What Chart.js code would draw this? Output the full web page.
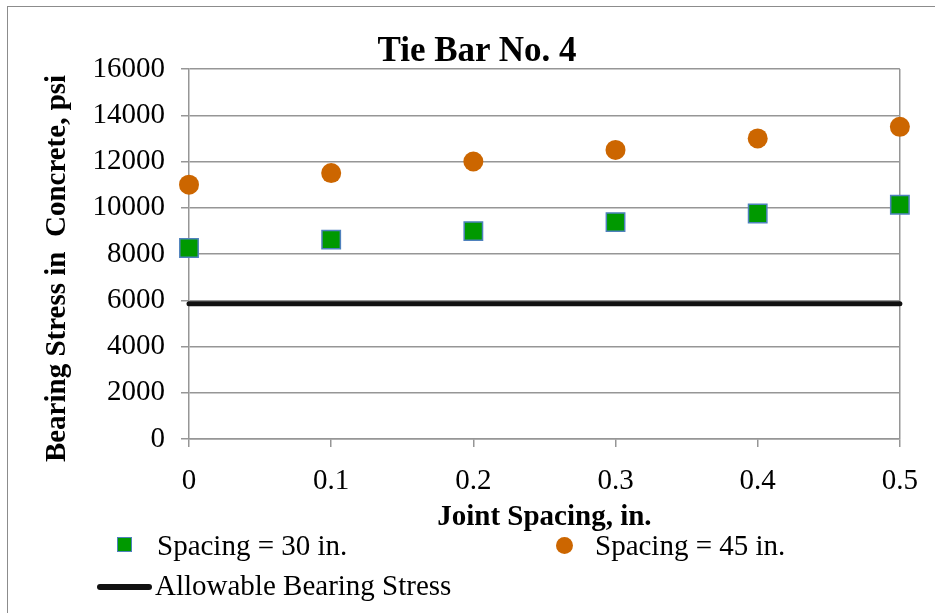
<!DOCTYPE html>
<html>
<head>
<meta charset="utf-8">
<script src="https://cdn.jsdelivr.net/npm/chart.js@4/dist/chart.umd.min.js"></script>
<style>
body { margin: 0; background: #fff; overflow: hidden; }
#wrap { position: relative; width: 935px; height: 613px; font-family: 'Liberation Serif', 'Times New Roman', serif; }
#frame { position: absolute; left: 7px; top: 6px; width: 1000px; height: 700px; border-left: 1.5px solid #8c8c8c; border-top: 1.5px solid #8c8c8c; }
#title { position: absolute; left: 0; width: 954px; top: 32px; text-align: center; font-family: 'Liberation Serif', serif; font-weight: bold; font-size: 35px; line-height: 1; }
.leg { position: absolute; font-family: 'Liberation Serif', serif; font-size: 29px; line-height: 1; white-space: nowrap; color: #000; }
.mk { position: absolute; }
canvas { position: absolute; left: 0; top: 0; }
</style>
</head>
<body>
<div id="wrap">
  <div id="frame"></div>
  <canvas id="chart" width="935" height="613"></canvas>
  <div id="title"></div>
  <div id="legend"></div>
</div>
<script>
let chartTitle = 'Tie Bar No. 4';
let xTitle = 'Joint Spacing, in.';
let yTitle = 'Bearing Stress in  Concrete, psi    ';

let jointSpacing = [0, 0.1, 0.2, 0.3, 0.4, 0.5];
let xTickLabels = ['0', '0.1', '0.2', '0.3', '0.4', '0.5'];
let stress30 = [8260, 8620, 8990, 9380, 9750, 10130];
let stress45 = [11000, 11500, 12000, 12500, 13000, 13500];
let allowable = [5850, 5850, 5850, 5850, 5850, 5850];
let seriesNames = ['Spacing = 30 in.', 'Spacing = 45 in.', 'Allowable Bearing Stress'];

const grey = '#969696';
const font = 'Liberation Serif';

function toPoints(ys) {
    return jointSpacing.map((x, i) => ({x: x, y: ys[i]}));
}

document.getElementById('title').innerText = chartTitle;

const ctx = document.getElementById('chart').getContext('2d');
let chart = new Chart(ctx, {
    type: 'scatter',
    data: {
        datasets: [
            { label: seriesNames[0], data: toPoints(stress30), pointStyle: 'rect', pointRadius: 13, pointHoverRadius: 13,
              backgroundColor: '#009900', borderColor: '#4f81bd', borderWidth: 1.5, clip: false },
            { label: seriesNames[1], data: toPoints(stress45), pointStyle: 'circle', pointRadius: 10, pointHoverRadius: 10,
              backgroundColor: '#cc6600', borderColor: '#cc6600', borderWidth: 0, clip: false },
            { label: seriesNames[2], data: toPoints(allowable), showLine: true, pointRadius: 0, pointHoverRadius: 0,
              borderColor: '#111111', backgroundColor: '#111111', borderWidth: 5, borderCapStyle: 'round', clip: false }
        ]
    },
    options: {
        responsive: false,
        animation: false,
        devicePixelRatio: 1,
        layout: { padding: { left: 0, right: 34, top: 69, bottom: 74 } },
        plugins: { legend: { display: false }, tooltip: { enabled: false }, title: { display: false } },
        scales: {
            x: {
                type: 'linear', min: 0, max: 0.5,
                afterFit: s => { s.height = 100; },
                ticks: { stepSize: 0.1, color: '#000', padding: 17, font: { family: font, size: 29 },
                         callback: (v, i) => xTickLabels[i] },
                grid: { color: c => c.index === 5 ? grey : 'rgba(0,0,0,0)', tickColor: grey, lineWidth: 1.5, tickLength: 8 },
                border: { color: grey, width: 1.5 },
                title: { display: true, text: xTitle, color: '#000', padding: { top: 0, bottom: 4 },
                         font: { family: font, size: 29, weight: 'bold' } }
            },
            y: {
                min: 0, max: 16000,
                afterFit: s => { s.width = 189; },
                ticks: { stepSize: 2000, color: '#000', padding: 16, font: { family: font, size: 29 },
                         callback: v => String(v) },
                grid: { color: grey, tickColor: grey, lineWidth: 1.5, tickLength: 8 },
                border: { color: grey, width: 1.5 },
                title: { display: true, text: yTitle, color: '#000', padding: { top: 40, bottom: 0 },
                         font: { family: font, size: 29, weight: 'bold' } }
            }
        }
    }
});

// legend laid out like the original (two rows)
let legend = document.getElementById('legend');
legend.innerHTML =
    '<div class="mk" style="left:117px;top:537px;width:13px;height:13px;background:#009900;border:1.5px solid #4f81bd"></div>' +
    '<div class="leg" style="left:157px;top:531px">' + seriesNames[0] + '</div>' +
    '<div class="mk" style="left:556px;top:537px;width:17px;height:17px;border-radius:50%;background:#cc6600"></div>' +
    '<div class="leg" style="left:595px;top:531px">' + seriesNames[1] + '</div>' +
    '<div class="mk" style="left:97px;top:584px;width:55px;height:6px;border-radius:3px;background:#111"></div>' +
    '<div class="leg" style="left:155px;top:571px">' + seriesNames[2] + '</div>';
</script>
</body>
</html>
